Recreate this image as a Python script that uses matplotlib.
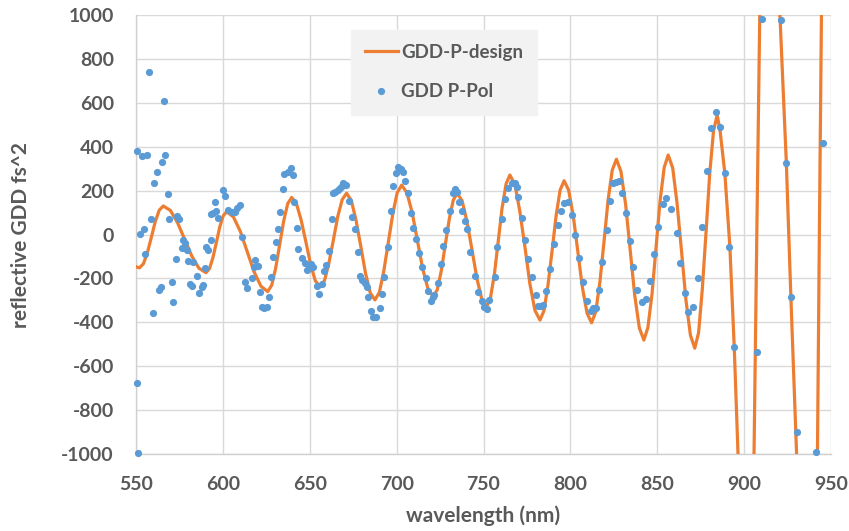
import matplotlib
matplotlib.use('Agg')
from matplotlib import pyplot as plt

# design curve
design_wl = [550.0, 552.0, 554.3, 556.6, 558.9, 561.1, 563.4, 565.7, 569.8, 573.9, 578.0, 582.1, 586.2,
             590.3, 592.3, 594.3, 596.3, 598.2, 600.2, 602.2, 606.1, 610.1, 614.0, 617.9, 621.9,
             625.8, 628.1, 630.4, 632.7, 635.0, 637.3, 639.6, 642.3, 645.0, 647.8, 650.5, 653.2,
             655.9, 658.5, 661.0, 663.6, 666.1, 668.7, 671.2, 673.9, 676.6, 679.4, 682.1, 684.8,
             687.5, 690.1, 692.6, 695.2, 697.8, 700.3, 702.9, 705.9, 709.0, 712.0, 715.0, 718.1,
             721.1, 723.4, 725.7, 728.0, 730.3, 732.6, 734.9, 737.7, 740.5, 743.4, 746.2, 749.0,
             751.8, 754.0, 756.3, 758.5, 760.7, 763.0, 765.2, 768.1, 770.9, 773.9, 776.7, 779.6,
             782.5, 784.8, 787.1, 789.5, 791.8, 794.1, 796.4, 799.0, 801.7, 804.3, 806.9, 809.6,
             812.2, 814.6, 817.0, 819.4, 821.7, 824.1, 826.5, 829.1, 831.8, 834.4, 837.0, 839.7,
             842.3, 844.6, 847.0, 849.3, 851.6, 854.0, 856.3, 858.9, 861.4, 864.0, 866.5, 869.1,
             871.6, 873.8, 875.9, 878.1, 880.2, 882.4, 884.5, 886.2, 888.9, 891.8, 894.3, 896.5,
             898.5, 901.0, 903.5, 905.7, 907.3, 909.0, 911.5, 915.0, 918.5, 920.6, 924.3, 926.9,
             930.2, 933.0, 936.0, 939.5, 942.2, 943.3, 944.5, 947.0, 950.0]
design_gdd = [-147, -152, -133, -81.5, -11, 59.5, 111, 130, 109.6, 54, -22, -98, -153.6,
              -174, -155.4, -104.5, -35, 34.5, 85.4, 104, 79.6, 13, -78, -169, -235.6,
              -260, -231.3, -152.8, -45.5, 61.8, 140.3, 169, 141.7, 67.3, -34.5, -136.3, -210.7,
              -238, -209.5, -131.5, -25, 81.5, 159.5, 188, 155.4, 66.5, -55, -176.5, -265.4,
              -298, -263, -167.3, -36.5, 94.3, 190, 225, 191, 98, -29, -156, -249,
              -283, -251.4, -165.3, -47.5, 70.3, 156.4, 188, 153.4, 58.8, -70.5, -199.8, -294.4,
              -329, -288.8, -179, -29, 121, 230.8, 271, 226.7, 105.8, -59.5, -224.8, -345.7,
              -390, -347.5, -231.3, -72.5, 86.3, 202.5, 245, 201.7, 83.3, -78.5, -240.3, -358.7,
              -402, -352.1, -215.8, -29.5, 156.8, 293.1, 343, 287.8, 137, -69, -275, -425.8,
              -481, -424.5, -270.3, -59.5, 151.3, 305.5, 362, 303, 142, -78, -298, -459,
              -518, -446.8, -252.5, 13, 278.5, 472.8, 544, 470, 279, -56, -511, -1000,
              -1450, -1650, -1450, -1000, 0, 1000, 1550, 1750, 1550, 1000, 327, -283,
              -1000, -1550, -1750, -1550, -1000, 0, 1000, 1700, 2100]

# measured points
meas_wl = [550.4, 551.3, 550.5, 552.3, 553.3, 554.6, 555.2, 556.5, 557.7, 558.6, 559.6, 560.5, 561.9,
           563.4, 564.2, 565.1, 566.1, 566.7, 568.6, 569.2, 570.5, 571.5, 572.8, 573.4, 574.9,
           576.3, 577.2, 578.2, 579.2, 580.1, 581.1, 582.4, 583.0, 584.9, 586.4, 587.8, 588.4,
           589.7, 590.3, 591.3, 593.2, 593.2, 594.1, 595.5, 596.0, 597.4, 600.2, 601.2, 603.1,
           605.1, 607.0, 608.3, 609.8, 611.2, 612.7, 614.0, 616.5, 617.9, 618.5, 620.0, 621.3,
           622.3, 623.8, 625.2, 626.5, 627.7, 629.0, 630.4, 631.9, 632.9, 634.8, 635.3, 637.6,
           639.0, 640.5, 641.1, 642.8, 643.4, 645.3, 647.2, 648.6, 649.5, 650.5, 652.0, 654.0,
           655.3, 656.9, 658.3, 659.3, 661.0, 662.6, 663.5, 664.5, 666.0, 667.4, 668.5, 669.3,
           670.7, 672.7, 674.5, 676.0, 677.6, 678.9, 680.2, 681.8, 682.7, 683.7, 685.2, 686.5,
           687.9, 690.4, 691.4, 692.9, 695.2, 696.7, 698.0, 699.6, 700.9, 702.3, 703.5, 704.8,
           706.7, 708.1, 709.2, 711.1, 713.0, 714.7, 716.7, 718.2, 719.6, 720.7, 721.6, 723.6,
           725.3, 726.8, 728.7, 730.7, 732.2, 733.5, 734.9, 736.0, 737.4, 739.3, 740.6, 742.2,
           745.1, 746.6, 748.9, 750.2, 751.8, 753.3, 756.6, 757.5, 760.4, 762.3, 763.9, 766.2,
           768.1, 769.1, 770.0, 771.9, 773.8, 775.7, 778.0, 780.0, 781.5, 783.0, 784.4, 786.0,
           788.2, 790.5, 792.6, 794.5, 796.4, 798.7, 800.7, 802.6, 804.9, 807.0, 809.3, 811.8,
           813.1, 814.5, 816.4, 818.3, 820.8, 822.7, 824.6, 826.2, 828.1, 829.8, 831.8, 834.2,
           836.1, 838.4, 841.5, 843.4, 845.7, 848.2, 850.5, 853.4, 855.3, 858.2, 861.1, 863.0,
           865.9, 867.8, 870.3, 873.2, 875.8, 878.4, 880.7, 883.7, 886.0, 888.9, 891.4, 894.3,
           907.5, 910.4, 921.5, 924.3, 926.9, 930.4, 941.6, 945.3]
meas_gdd = [-678, -997, 380, 1, 358, 25, -90, 362, 742, 69, -359, 233, 283,
            -253, -238, 332, 607, 362, 184, 69, -215, -306, -112, 84, 72,
            -63, -25, -40, -71, -121, -226, -233, -127, -189, -268, -238, -231,
            -151, -58, -71, -25, 93, 99, 149, 108, 74, 203, 175, 112,
            104, 104, 119, 134, -13, -215, -245, -200, -149, -116, -144, -260,
            -329, -333, -332, -283, -195, -104, -36, 25, 101, 207, 274, 283,
            302, 271, 149, 31, -66, -108, -128, -162, -154, -134, -147, -233,
            -271, -226, -165, -139, -75, 71, 188, 195, 203, 213, 220, 233,
            226, 153, 78, 25, -78, -188, -207, -222, -238, -286, -347, -374,
            -377, -336, -271, -192, -58, 108, 222, 279, 309, 297, 286, 245,
            190, 99, 28, -21, -86, -149, -197, -256, -302, -283, -276, -222,
            -136, -52, 21, 108, 188, 206, 195, 149, 108, 63, 24, -81,
            -189, -263, -302, -329, -341, -298, -195, -58, 69, 162, 213, 236,
            233, 218, 172, 74, -25, -113, -195, -276, -326, -324, -321, -257,
            -157, -45, 43, 108, 145, 147, 89, -2, -108, -215, -303, -347,
            -336, -333, -253, -124, 21, 154, 236, 241, 245, 190, 99, -28,
            -149, -253, -309, -295, -212, -90, 36, 138, 165, 115, 5, -131,
            -268, -352, -332, -197, 36, 289, 487, 559, 491, 282, -56, -511,
            -537, 982, 977, 327, -283, -898, -992, 415]

xticks = [550, 600, 650, 700, 750, 800, 850, 900, 950]
yticks = [-1000, -800, -600, -400, -200, 0, 200, 400, 600, 800, 1000]

gray = '#595959'
plt.rcParams['font.family'] = ['Lato', 'DejaVu Sans']
plt.rcParams['font.weight'] = 'bold'
plt.rcParams['axes.unicode_minus'] = False

fig = plt.figure(figsize=(8.49, 5.31), dpi=100)
ax = fig.add_axes([136/849, 1-454/531, 695/849, 439/531])

ax.plot(design_wl, design_gdd, '-', color='#ED7D31', linewidth=2.3, label='GDD-P-design',
        zorder=3, solid_joinstyle='round')
ax.plot(meas_wl, meas_gdd, 'o', color='#5B9BD5', markersize=5.2, markeredgewidth=0,
        label='GDD P-Pol', zorder=4, clip_on=False)

ax.set_xlim(550, 950)
ax.set_ylim(-1000, 1000)
ax.set_xticks(xticks)
ax.set_yticks(yticks)
ax.grid(True, color='#d9d9d9', linewidth=1)
ax.set_axisbelow(True)
for s in ['top', 'right']:
    ax.spines[s].set_visible(False)
for s in ['left', 'bottom']:
    ax.spines[s].set_color('#d0d0d0')
    ax.spines[s].set_linewidth(1)
ax.tick_params(length=0, labelsize=14, labelcolor=gray)
ax.tick_params(axis='y', pad=16)
ax.tick_params(axis='x', pad=16)

ax.set_xlabel('wavelength (nm)', fontsize=15, color=gray, fontweight='bold', labelpad=9)
ax.set_ylabel('reflective GDD fs^2', fontsize=15, color=gray, fontweight='bold', labelpad=22)

leg = ax.legend(loc='upper left', bbox_to_anchor=(0.309, 0.966), frameon=True, fancybox=False,
                facecolor='#f2f2f2', edgecolor='#f2f2f2', framealpha=1, fontsize=13.5,
                labelcolor=gray, handlelength=1.75, handletextpad=0.2, borderpad=0.75,
                labelspacing=1.2, borderaxespad=0)

fig.savefig('out.png', dpi=100)
